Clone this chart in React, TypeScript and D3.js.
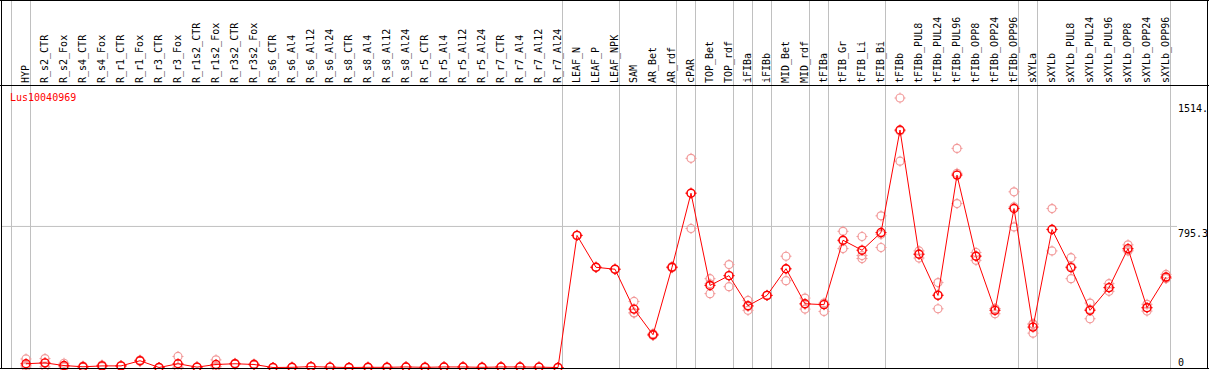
import React from "react";
import * as d3 from "d3";

const categories = [
  "HYP", "R_s2_CTR", "R_s2_Fox", "R_s4_CTR", "R_s4_Fox", "R_r1_CTR", "R_r1_Fox", "R_r3_CTR", "R_r3_Fox",
  "R_r1s2_CTR", "R_r1s2_Fox", "R_r3s2_CTR", "R_r3s2_Fox", "R_s6_CTR", "R_s6_Al4", "R_s6_Al12", "R_s6_Al24",
  "R_s8_CTR", "R_s8_Al4", "R_s8_Al12", "R_s8_Al24", "R_r5_CTR", "R_r5_Al4", "R_r5_Al12", "R_r5_Al24",
  "R_r7_CTR", "R_r7_Al4", "R_r7_Al12", "R_r7_Al24", "LEAF_N", "LEAF_P", "LEAF_NPK", "SAM", "AR_Bet", "AR_rdf",
  "cPAR", "TOP_Bet", "TOP_rdf", "iFIBa", "iFIBb", "MID_Bet", "MID_rdf", "tFIBa", "tFIB_Gr", "tFIB_Li", "tFIB_Bi",
  "tFIBb", "tFIBb_PUL8", "tFIBb_PUL24", "tFIBb_PUL96", "tFIBb_OPP8", "tFIBb_OPP24", "tFIBb_OPP96",
  "sXYLa", "sXYLb", "sXYLb_PUL8", "sXYLb_PUL24", "sXYLb_PUL96", "sXYLb_OPP8", "sXYLb_OPP24", "sXYLb_OPP96",
];

// group separators: index of first category of each group (plus end)
const groupStarts = [0, 1, 29, 32, 35, 36, 38, 39, 40, 42, 43, 46, 53, 54, 61];

const meanValues = [
  21, 26, 11, 4, 9, 9, 38, 0, 21, 2, 17, 21, 17, 0, 1, 5, 2, 0, 1, 1, 3, 1, 3, 3, 1, 3, 3, 2, 0,
  742, 563, 552, 328, 184, 563, 979, 461, 516, 347, 405, 555, 358, 353, 715, 659, 758,
  1334, 636, 405, 1081, 625, 321, 893, 227, 775, 561, 321, 449, 668, 336, 508,
];

const rep1 = [
  48, 50, 24, 8, 14, 10, 42, 0, 62, 3, 43, 24, 20, 0, 1, 5, 2, 0, 1, 1, 3, 1, 3, 3, 1, 3, 3, 2, 0,
  742, 563, 552, 371, 190, 567, 1175, 499, 578, 377, 405, 625, 390, 362, 765, 736, 852,
  1514, 655, 477, 1231, 646, 330, 987, 246, 893, 617, 362, 471, 689, 355, 523,
];
const rep2 = [
  12, 24, 6, 2, 8, 9, 37, 0, 1, 2, 5, 20, 16, 0, 1, 5, 2, 0, 1, 1, 3, 1, 3, 3, 1, 3, 3, 2, 0,
  742, 563, 552, 306, 180, 560, 781, 415, 454, 321, 405, 488, 328, 315, 668, 612, 674,
  1159, 615, 330, 921, 602, 302, 790, 193, 655, 499, 274, 428, 655, 317, 500,
];
const rep3 = [
  3, 4, 3, 2, 5, 8, 35, 0, 0, 1, 3, 19, 15, 0, 1, 5, 2, 0, 1, 1, 3, 1, 3, 3, 1, 3, 3, 2, 0,
  742, 563, 552, 308, 182, 562, 980, 470, 516, 343, 405, 553, 356, 356, 712, 629, 748,
  1329, 638, 408, 1091, 627, 331, 902, 242, 777, 567, 327, 448, 660, 336, 501,
];

const yTicks = ["1514.", "795.3", "0"];
const yTickValues = [1514, 795.3, 0];
const geneName = "Lus10040969";

const W = 1209;
const H = 370;
const FONT = "'DejaVu Sans Mono', monospace";

export default function App() {
  const x = d3.scaleBand<string>().domain(categories).range([11.5, 11.5 + 19 * categories.length]).padding(0);
  const bw = x.bandwidth();
  const cx = (c: string) => (x(c) as number) + 14.5;
  const y = d3.scaleLinear().domain([0, 1514]).range([367.5, 98]);

  const line = d3
    .line<number>()
    .x((_, i) => cx(categories[i]))
    .y((v) => y(v));

  const tickDy = [14, 11, -1.5];

  const marker = (px: number, py: number, color: string, sw: number, key: string) => (
    <g key={key}>
      <circle cx={px} cy={py} r={4} fill="none" stroke={color} strokeWidth={sw} />
      <line x1={px} x2={px} y1={py - 5.5} y2={py - 3.5} stroke={color} strokeWidth={1} />
      <line x1={px} x2={px} y1={py + 3.5} y2={py + 5.5} stroke={color} strokeWidth={1} />
      <line x1={px - 5.5} x2={px - 3.5} y1={py} y2={py} stroke={color} strokeWidth={1} />
      <line x1={px + 3.5} x2={px + 5.5} y1={py} y2={py} stroke={color} strokeWidth={1} />
    </g>
  );

  return (
    <svg
      width={W}
      height={H}
      style={{ position: "absolute", left: 0, top: 0, background: "#fff" }}
      fontFamily={FONT}
    >
      <rect x={0} y={0} width={W} height={H} fill="#fff" />
      {/* group separators */}
      {groupStarts.map((g) => {
        const gx = 11.5 + g * bw;
        return <line key={"g" + g} x1={gx} x2={gx} y1={0} y2={368} stroke="#c0c0c0" strokeWidth={1} />;
      })}
      {/* horizontal grid at middle tick */}
      <line x1={1} x2={1177} y1={y(795.3) + 0.5} y2={y(795.3) + 0.5} stroke="#c0c0c0" strokeWidth={1} />

      {/* header labels */}
      {categories.map((c) => (
        <text
          key={"l" + c}
          transform={`translate(${cx(c) + 3},83) rotate(-90)`}
          fontSize={10}
          fill="#000"
        >
          {c}
        </text>
      ))}

      {/* gene name */}
      <text x={10} y={100.5} fontSize={10} fill="#ff0000">
        {geneName}
      </text>

      {/* y tick labels */}
      {yTicks.map((t, i) => (
        <text key={"t" + t} x={1178} y={y(yTickValues[i]) + tickDy[i]} fontSize={10} fill="#000">
          {t}
        </text>
      ))}

      {/* replicates */}
      {[rep1, rep2, rep3].map((rep, ri) =>
        rep.map((v, i) => marker(cx(categories[i]), y(v), "#f29a9a", 1.2, `r${ri}-${i}`))
      )}

      {/* mean line */}
      <path d={line(meanValues) || ""} fill="none" stroke="#ff0000" strokeWidth={1} />
      {meanValues.map((v, i) => marker(cx(categories[i]), y(v), "#ff0000", 1.4, `m${i}`))}

      {/* borders */}
      <line x1={0} x2={W} y1={0.5} y2={0.5} stroke="#000" strokeWidth={1} />
      <line x1={0} x2={W} y1={85.5} y2={85.5} stroke="#000" strokeWidth={1} />
      <line x1={1.5} x2={1.5} y1={0} y2={369} stroke="#000" strokeWidth={1} />
      <line x1={1207.5} x2={1207.5} y1={0} y2={369} stroke="#000" strokeWidth={1} />
      <line x1={0} x2={W} y1={368.5} y2={368.5} stroke="#000" strokeWidth={1} />
    </svg>
  );
}
